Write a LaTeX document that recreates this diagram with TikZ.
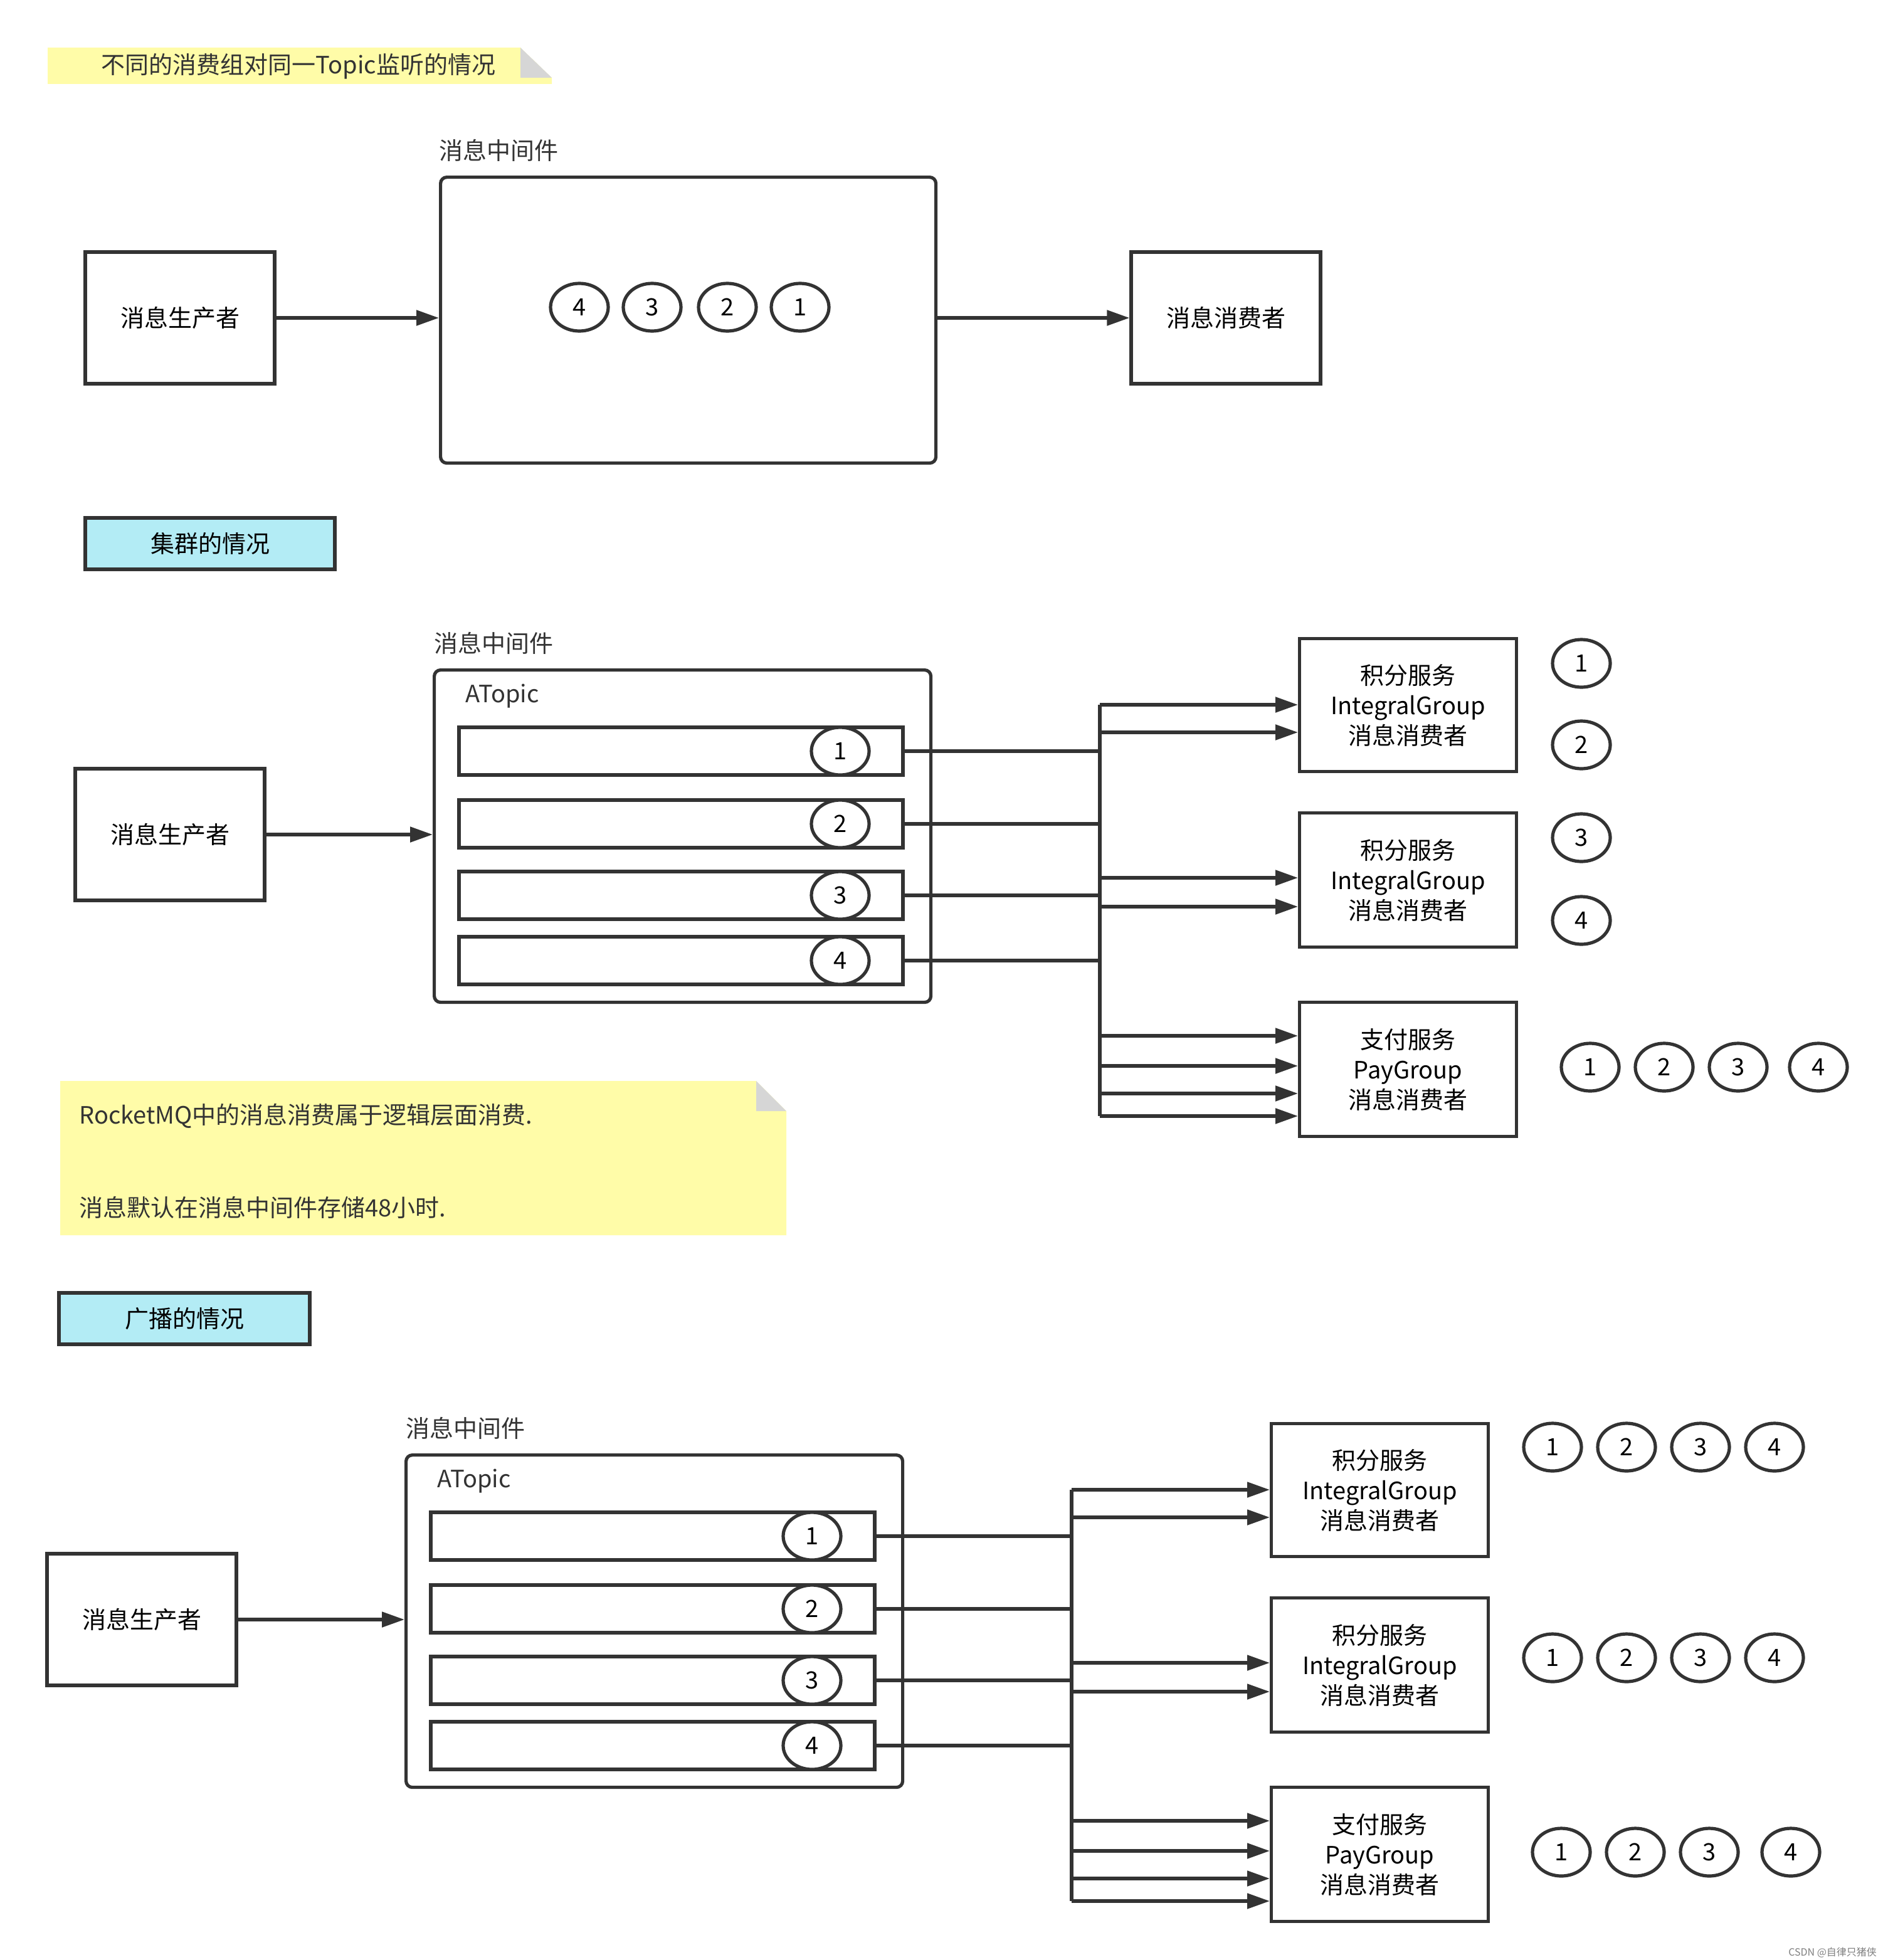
\documentclass[tikz,border=0pt]{standalone}
\usepackage{fontspec}
\setmainfont{Noto Sans CJK SC}
\usetikzlibrary{arrows.meta,shapes.geometric}
\definecolor{ln}{HTML}{333333}
\definecolor{note}{HTML}{FFFCA8}
\definecolor{fold}{HTML}{D6D6D6}
\definecolor{cyanl}{HTML}{B3ECF5}
\tikzset{
 lw/.style={line width=2.6pt,draw=ln},
 box/.style={lw,inner sep=0,align=center,font=\fontsize{19}{24}\selectfont},
 q/.style={ellipse,lw,fill=white,minimum width=46pt,minimum height=38pt,inner sep=0,font=\fontsize{19}{22}\selectfont},
 arr/.style={lw,-{Triangle[length=18pt,width=12pt]}},
 txt/.style={font=\fontsize{19}{22}\selectfont,inner sep=0,text=ln},
}
\newcommand\mqsec[1]{%
 \node[txt,anchor=west] (#1lbl) at (346,513) {消息中间件};
 \node[box,rounded corners=5pt,minimum width=396pt,minimum height=265pt,anchor=north west] (#1mq) at (345,533) {};
 \node[txt,anchor=west] (#1at) at (371,555) {ATopic};
 \foreach \i/\y in {1/599,2/657,3/714,4/766}{
  \node[box,minimum width=354pt,minimum height=38pt] (#1q\i) at (543,\y) {};
  \node[q] (#1c\i) at (670,\y) {\i};
  \coordinate (#1b\i) at (877,\y);
  \draw[lw] (#1q\i.east) -- (#1b\i);
 }
 \node[box,minimum width=151pt,minimum height=105pt] (#1p) at (135.5,665.5) {消息生产者};
 \draw[arr] (#1p.east) -- (#1p.east -| #1mq.west);
 \node[box,minimum width=173pt,minimum height=106pt,anchor=north west] (#1g1) at (1035,508) {积分服务\\IntegralGroup\\消息消费者};
 \node[box,minimum width=173pt,minimum height=107pt,anchor=north west] (#1g2) at (1035,647) {积分服务\\IntegralGroup\\消息消费者};
 \node[box,minimum width=173pt,minimum height=107pt,anchor=north west] (#1g3) at (1035,798) {支付服务\\PayGroup\\消息消费者};
 \coordinate (#1top) at (877,562);
 \coordinate (#1bot) at (877,890);
 \draw[lw] (#1top) -- (#1bot);
 \foreach \y/\g in {562/1,584/1,700/2,723/2,826/3,850/3,872/3,890/3}{
  \coordinate (#1s\y) at (877,\y);
  \draw[arr] (#1s\y) -- (#1s\y -| #1g\g.west);
 }
}
\begin{document}
\begin{tikzpicture}[x=1pt,y=-1pt]
\useasboundingbox[fill=white] (0,0) rectangle (1505,1563);
% title note
\fill[note] (38,38) -- (415,38) -- (440,62) -- (440,67) -- (38,67) -- cycle;
\fill[fold] (415,38) -- (440,62) -- (415,62) -- cycle;
\node[txt] (title) at (238,53) {不同的消费组对同一Topic监听的情况};
% section 1
\node[txt,anchor=west] (l1) at (350,120) {消息中间件};
\node[box,rounded corners=5pt,minimum width=395pt,minimum height=228pt,anchor=north west] (mq1) at (350,140) {};
\foreach \i/\x in {4/462,3/520,2/580,1/638}{\node[q] (m\i) at (\x,245) {\i};}
\node[box,minimum width=151pt,minimum height=105pt] (p1) at (143.5,253.5) {消息生产者};
\node[box,minimum width=151pt,minimum height=105pt] (c1) at (977.5,253.5) {消息消费者};
\draw[arr] (p1.east) -- (p1.east -| mq1.west);
\draw[arr] (c1.west -| mq1.east) -- (c1.west);
% cluster label
\node[box,fill=cyanl,minimum width=199pt,minimum height=41pt] (cl) at (167.5,433.5) {集群的情况};
\mqsec{a}
\foreach \i/\y in {1/529,2/594,3/668,4/734}{\node[q] (ar\i) at (1261,\y) {\i};}
\foreach \i/\x in {1/1268,2/1327,3/1386,4/1450}{\node[q] (ap\i) at (\x,851) {\i};}
% note
\fill[note] (48,862) -- (603,862) -- (627,886) -- (627,985) -- (48,985) -- cycle;
\fill[fold] (603,862) -- (627,886) -- (603,886) -- cycle;
\node[txt,anchor=west] (n1) at (63,890) {RocketMQ中的消息消费属于逻辑层面消费.};
\node[txt,anchor=west] (n2) at (63,963) {消息默认在消息中间件存储48小时.};
% broadcast label
\node[box,fill=cyanl,minimum width=200pt,minimum height=41pt] (bl) at (147,1051.5) {广播的情况};
\begin{scope}[shift={(-22.5,626)}]
\mqsec{b}
\end{scope}
\foreach \r/\y in {1/1154,2/1322}{\foreach \i/\x in {1/1238,2/1297,3/1356,4/1415}{\node[q] (br\r\i) at (\x,\y) {\i};}}
\foreach \i/\x in {1/1245,2/1304,3/1363,4/1428}{\node[q] (bp\i) at (\x,1477) {\i};}
\node[font=\fontsize{8}{9}\selectfont,text=gray,anchor=east] (wm) at (1500,1557) {CSDN @自律只猪侠};
\end{tikzpicture}
\end{document}
